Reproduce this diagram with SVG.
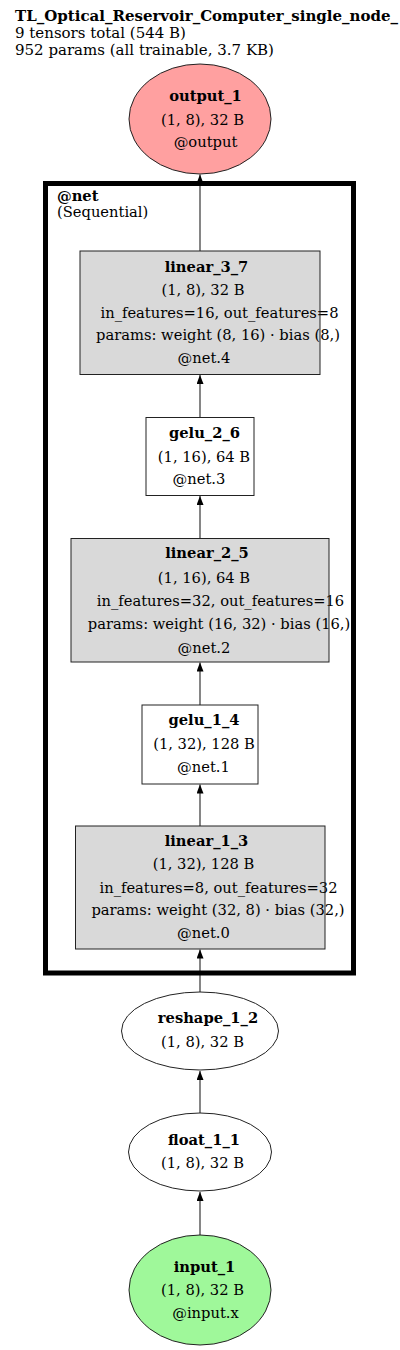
<svg xmlns="http://www.w3.org/2000/svg" width="400" height="1350" viewBox="0 0 400 1350">
<style>
text{font-family:"DejaVu Serif","Liberation Serif",serif;font-size:14.7px;fill:#000}
.b{font-weight:bold}
.m{text-anchor:middle}
.h{font-size:15px}
.edge{stroke:#444;stroke-width:1.3;fill:none}
.gray{fill:#d9d9d9}
.white{fill:#fff}
.ol{fill:none;stroke:#222;stroke-width:1}
.cl{fill:none;stroke:#000;stroke-width:5}
</style>
<defs>
<marker id="arr" markerUnits="userSpaceOnUse" markerWidth="10" markerHeight="8" refX="9" refY="3.5" orient="auto">
<path d="M0,0 L9,3.5 L0,7 z" fill="#000"/>
</marker>
</defs>
<rect width="400" height="1350" fill="#fff"/>
<g id="header">
<text class="b h" x="15" y="21">TL_Optical_Reservoir_Computer_single_node_</text>
<text class="h" x="15" y="38">9 tensors total (544 B)</text>
<text class="h" x="15" y="55">952 params (all trainable, 3.7 KB)</text>
</g>
<g id="cluster_net">
<text class="b" x="57" y="201">@net</text>
<text x="57" y="217">(Sequential)</text>
</g>
<g id="connectors">
<line class="edge" x1="200" y1="1235" x2="200" y2="1192" marker-end="url(#arr)"/>
<line class="edge" x1="200" y1="1113" x2="200" y2="1071" marker-end="url(#arr)"/>
<line class="edge" x1="200" y1="992" x2="200" y2="949.5" marker-end="url(#arr)"/>
<line class="edge" x1="200" y1="826" x2="200" y2="784.5" marker-end="url(#arr)"/>
<line class="edge" x1="200" y1="705" x2="200" y2="662.5" marker-end="url(#arr)"/>
<line class="edge" x1="200" y1="538.5" x2="200" y2="496" marker-end="url(#arr)"/>
<line class="edge" x1="200" y1="417.5" x2="200" y2="375" marker-end="url(#arr)"/>
<line class="edge" x1="200" y1="251" x2="200" y2="174.5" marker-end="url(#arr)"/>
</g>
<g id="output_1">
<ellipse cx="200" cy="119" rx="71" ry="55" fill="#ffa0a0" stroke="#222"/>
<text class="b m" x="205.5" y="101">output_1</text>
<text class="m" x="202.5" y="125">(1, 8), 32 B</text>
<text class="m" x="205.5" y="147">@output</text>
</g>
<g id="linear_3_7">
<rect class="gray" x="80" y="251" width="240" height="123.5"/>
<text class="b m" x="206.5" y="272">linear_3_7</text>
<text class="m" x="203" y="295">(1, 8), 32 B</text>
<text class="m" x="219.5" y="318">in_features=16, out_features=8</text>
<text class="m" x="218" y="340">params: weight (8, 16) · bias (8,)</text>
<text class="m" x="204" y="363">@net.4</text>
<rect class="ol" x="80" y="251" width="240" height="123.5"/>
</g>
<g id="gelu_2_6">
<rect class="white" x="146" y="417.5" width="108" height="78"/>
<text class="b m" x="204.5" y="438">gelu_2_6</text>
<text class="m" x="204" y="461.5">(1, 16), 64 B</text>
<text class="m" x="199" y="484">@net.3</text>
<rect class="ol" x="146" y="417.5" width="108" height="78"/>
</g>
<g id="linear_2_5">
<rect class="gray" x="71" y="538.5" width="258" height="123.5"/>
<text class="b m" x="207" y="558">linear_2_5</text>
<text class="m" x="204" y="583">(1, 16), 64 B</text>
<text class="m" x="220.5" y="606">in_features=32, out_features=16</text>
<text class="m" x="219" y="629">params: weight (16, 32) · bias (16,)</text>
<text class="m" x="204" y="653">@net.2</text>
<rect class="ol" x="71" y="538.5" width="258" height="123.5"/>
</g>
<g id="gelu_1_4">
<rect class="white" x="142" y="705" width="116" height="79"/>
<text class="b m" x="204" y="725">gelu_1_4</text>
<text class="m" x="204" y="748.5">(1, 32), 128 B</text>
<text class="m" x="203.5" y="771.5">@net.1</text>
<rect class="ol" x="142" y="705" width="116" height="79"/>
</g>
<g id="linear_1_3">
<rect class="gray" x="75.5" y="826" width="249.5" height="123"/>
<text class="b m" x="206.5" y="846">linear_1_3</text>
<text class="m" x="203.5" y="869">(1, 32), 128 B</text>
<text class="m" x="218.5" y="892.5">in_features=8, out_features=32</text>
<text class="m" x="218" y="915">params: weight (32, 8) · bias (32,)</text>
<text class="m" x="203.5" y="938">@net.0</text>
<rect class="ol" x="75.5" y="826" width="249.5" height="123"/>
</g>
<rect id="cluster_border" class="cl" x="45.5" y="183.5" width="308" height="789.5"/>
<g id="reshape_1_2">
<ellipse cx="200" cy="1031" rx="78.5" ry="39" fill="#fff" stroke="#222"/>
<text class="b m" x="208" y="1023">reshape_1_2</text>
<text class="m" x="202.5" y="1047">(1, 8), 32 B</text>
</g>
<g id="float_1_1">
<ellipse cx="200" cy="1152" rx="71.5" ry="39" fill="#fff" stroke="#222"/>
<text class="b m" x="204" y="1145">float_1_1</text>
<text class="m" x="202.5" y="1168">(1, 8), 32 B</text>
</g>
<g id="input_1">
<ellipse cx="200" cy="1290" rx="71" ry="55" fill="#9ff89a" stroke="#222"/>
<text class="b m" x="204.5" y="1272">input_1</text>
<text class="m" x="202.5" y="1295">(1, 8), 32 B</text>
<text class="m" x="205.5" y="1318">@input.x</text>
</g>
</svg>
